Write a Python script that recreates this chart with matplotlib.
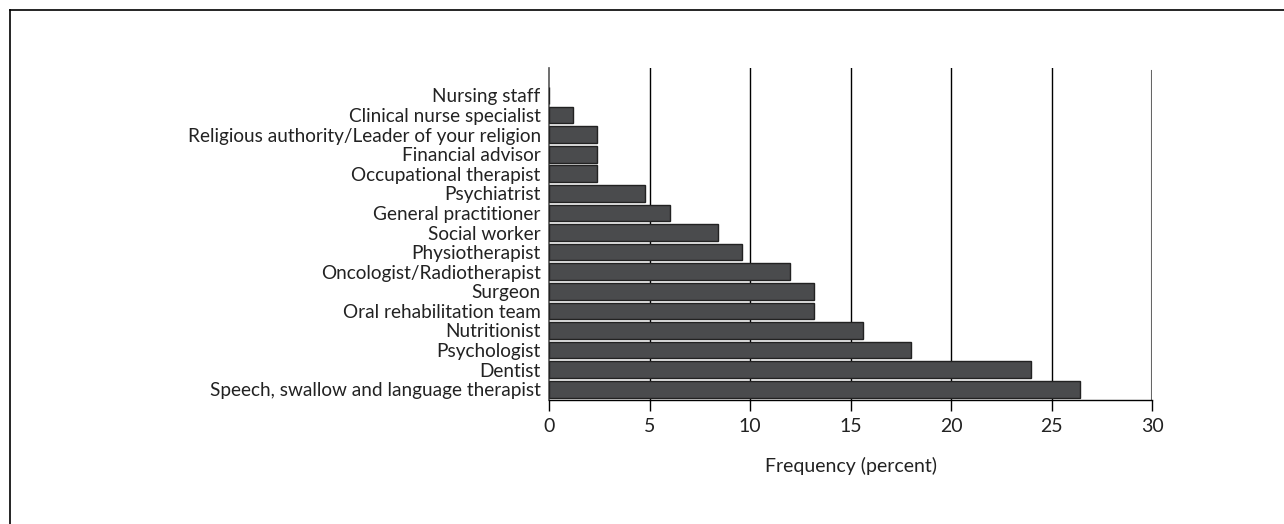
import matplotlib
matplotlib.use("Agg")
import matplotlib.pyplot as plt
from matplotlib.lines import Line2D

categories = [
    "Nursing staff",
    "Clinical nurse specialist",
    "Religious authority/Leader of your religion",
    "Financial advisor",
    "Occupational therapist",
    "Psychiatrist",
    "General practitioner",
    "Social worker",
    "Physiotherapist",
    "Oncologist/Radiotherapist",
    "Surgeon",
    "Oral rehabilitation team",
    "Nutritionist",
    "Psychologist",
    "Dentist",
    "Speech, swallow and language therapist",
]
values = [0.0, 1.2, 2.4, 2.4, 2.4, 4.8, 6.0, 8.4, 9.6, 12.0, 13.2, 13.2, 15.6, 18.0, 24.0, 26.4]
xticks = [0, 5, 10, 15, 20, 25, 30]
xlabel = "Frequency (percent)"

plt.rcParams['font.family'] = ['Lato', 'DejaVu Sans']

W, H = 1284, 524
fig = plt.figure(figsize=(W / 100, H / 100), dpi=100)
ax = fig.add_axes([549 / W, 1 - 400 / H, (1152 - 549) / W, (400 - 68) / H])

ypos = list(range(len(categories)))
ax.barh(ypos, values, height=0.85, color='#4a4b4d', edgecolor='#222222',
        linewidth=1.0, zorder=3)

for t in xticks[1:-1]:
    ax.axvline(t, color='black', lw=1.0, zorder=1)
ax.axvline(xticks[-1], color='#666666', lw=1.5, ymax=0.99, zorder=1)

ax.set_xlim(0, 30)
ax.set_ylim(15.55, -1.4)
ax.set_yticks(ypos)
ax.set_yticklabels(categories, fontsize=13.7, color='#222222')
ax.tick_params(axis='y', length=0, pad=6)
ax.set_xticks(xticks)
ax.set_xticklabels([str(t) for t in xticks], fontsize=14, color='#222222')
ax.tick_params(axis='x', direction='out', length=8, width=1, pad=5, color='black')
ax.set_xlabel(xlabel, fontsize=14, color='#222222', labelpad=16)

for s in ['top', 'right']:
    ax.spines[s].set_visible(False)
ax.spines['left'].set_color('#555555')
ax.spines['left'].set_linewidth(1.2)
ax.spines['bottom'].set_color('black')
ax.spines['bottom'].set_linewidth(1.0)

# outer frame (left and top visible)
fig.add_artist(Line2D([10 / W, 10 / W], [0, 1 - 10 / H], color='black', lw=1.2,
                      transform=fig.transFigure))
fig.add_artist(Line2D([10 / W, 1], [1 - 10 / H, 1 - 10 / H], color='black', lw=1.2,
                      transform=fig.transFigure))

fig.savefig("out.png", dpi=100)
